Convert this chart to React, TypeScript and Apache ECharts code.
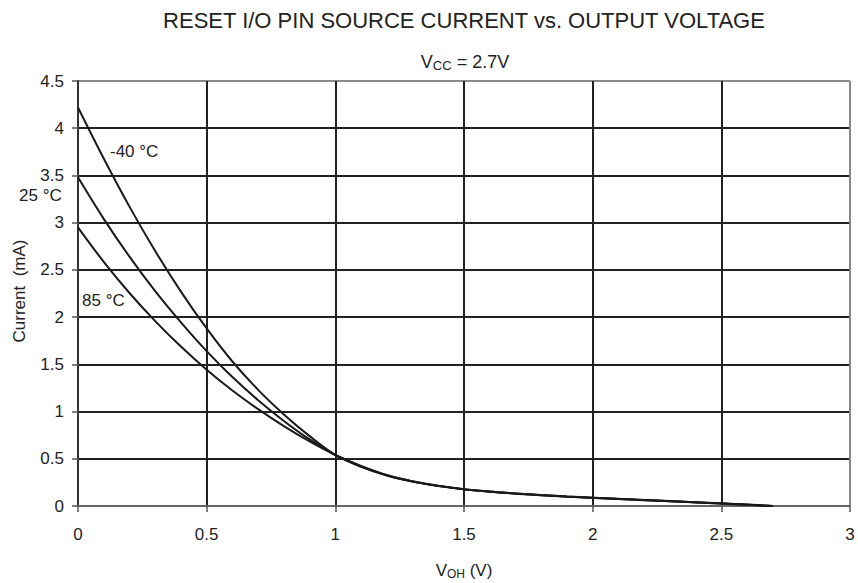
import React, { useEffect, useRef } from "react";
import * as echarts from "echarts";

const voltage = [
  0, 0.1, 0.2, 0.3, 0.4, 0.5, 0.6, 0.7, 0.8, 0.9, 1.0,
  1.1, 1.2, 1.3, 1.4, 1.5, 1.6, 1.7, 1.8, 1.9, 2.0,
  2.1, 2.2, 2.3, 2.4, 2.5, 2.6, 2.7,
];
const currentMinus40 = [
  4.22, 3.68, 3.17, 2.70, 2.27, 1.88, 1.53, 1.23, 0.97, 0.74, 0.54,
  0.415, 0.322, 0.258, 0.212, 0.176, 0.151, 0.131, 0.114, 0.099, 0.086,
  0.074, 0.062, 0.05, 0.038, 0.026, 0.013, 0.0,
];
const current25 = [
  3.48, 3.04, 2.64, 2.275, 1.945, 1.64, 1.365, 1.12, 0.90, 0.705, 0.54,
  0.42, 0.325, 0.26, 0.213, 0.177, 0.152, 0.132, 0.115, 0.1, 0.087,
  0.075, 0.063, 0.051, 0.039, 0.027, 0.014, 0.0,
];
const current85 = [
  2.95, 2.585, 2.255, 1.958, 1.688, 1.443, 1.223, 1.025, 0.845, 0.683, 0.54,
  0.425, 0.328, 0.262, 0.214, 0.178, 0.153, 0.133, 0.116, 0.101, 0.088,
  0.076, 0.064, 0.052, 0.04, 0.028, 0.015, 0.0,
];
const seriesNames = ["-40 °C", "25 °C", "85 °C"];

const FONT = "'Liberation Sans', Arial, Helvetica, sans-serif";
const INK = "#222";

export default function App() {
  const ref = useRef<HTMLDivElement>(null);
  useEffect(() => {
    if (!ref.current) return;
    const chart = echarts.init(ref.current, null, { renderer: "svg" });
    const pair = (ys: number[]) => voltage.map((x, i) => [x, ys[i]]);
    const series = [currentMinus40, current25, current85].map((ys, i) => ({
      name: seriesNames[i],
      type: "line",
      data: pair(ys),
      symbol: "none",
      smooth: 0.35,
      lineStyle: { color: "#1a1a1a", width: 2 },
      z: 5,
    }));
    const yGridColors = ["#555", "#222", "#222", "#222", "#222", "#222", "#222", "#222", "#222", "#8a8a8a"];
    const xGridColors = ["#333", "#222", "#222", "#222", "#222", "#222", "#8a8a8a"];
    chart.setOption({
      animation: false,
      textStyle: { fontFamily: FONT },
      grid: { left: 78, right: 8, top: 81, bottom: 77 },
      xAxis: {
        type: "value",
        min: 0,
        max: 3,
        interval: 0.5,
        axisLine: { show: true, onZero: false, lineStyle: { color: "#666", width: 2 } },
        axisTick: { show: true, length: 6, lineStyle: { color: "#555", width: 1.5 } },
        axisLabel: { color: INK, fontSize: 17, margin: 20, fontFamily: FONT },
        splitLine: { show: true, lineStyle: { color: xGridColors, width: 2 } },
      },
      yAxis: {
        type: "value",
        min: 0,
        max: 4.5,
        interval: 0.5,
        axisLine: { show: true, onZero: false, lineStyle: { color: "#333", width: 2 } },
        axisTick: { show: true, length: 6, lineStyle: { color: "#555", width: 1.5 } },
        axisLabel: { color: INK, fontSize: 17, margin: 14, fontFamily: FONT },
        splitLine: { show: true, lineStyle: { color: yGridColors, width: 2 } },
      },
      series,
      graphic: [
        {
          type: "text",
          x: 464,
          y: 20,
          style: {
            text: "RESET I/O PIN SOURCE CURRENT vs. OUTPUT VOLTAGE",
            fontSize: 22,
            fontFamily: FONT,
            fill: INK,
            align: "center",
            verticalAlign: "middle",
          },
        },
        {
          type: "text",
          x: 465,
          y: 62,
          style: {
            text: "{a|V}{b|CC}{a| = 2.7V}",
            fontFamily: FONT,
            fill: INK,
            align: "center",
            verticalAlign: "middle",
            rich: {
              a: { fontSize: 18, lineHeight: 20, fill: INK, fontFamily: FONT },
              b: { fontSize: 13, lineHeight: 8, verticalAlign: "bottom", fill: INK, fontFamily: FONT },
            },
          },
        },
        {
          type: "text",
          x: 464,
          y: 570,
          style: {
            text: "{a|V}{b|OH}{a| (V)}",
            fontFamily: FONT,
            fill: INK,
            align: "center",
            verticalAlign: "middle",
            rich: {
              a: { fontSize: 17, lineHeight: 20, fill: INK, fontFamily: FONT },
              b: { fontSize: 12, lineHeight: 8, verticalAlign: "bottom", fill: INK, fontFamily: FONT },
            },
          },
        },
        {
          type: "text",
          x: 19,
          y: 291,
          rotation: Math.PI / 2,
          style: {
            text: "Current  (mA)",
            fontSize: 17,
            fontFamily: FONT,
            fill: INK,
            align: "center",
            verticalAlign: "middle",
          },
        },
        {
          type: "text",
          x: 110,
          y: 151,
          style: { text: seriesNames[0], fontSize: 17, fontFamily: FONT, fill: INK, align: "left", verticalAlign: "middle" },
        },
        {
          type: "text",
          x: 19,
          y: 195,
          style: { text: seriesNames[1], fontSize: 17, fontFamily: FONT, fill: INK, align: "left", verticalAlign: "middle" },
        },
        {
          type: "text",
          x: 82,
          y: 300,
          style: { text: seriesNames[2], fontSize: 17, fontFamily: FONT, fill: INK, align: "left", verticalAlign: "middle" },
        },
      ],
    });
    return () => chart.dispose();
  }, []);
  return (
    <div
      ref={ref}
      style={{ position: "absolute", left: 0, top: 0, width: 858, height: 583, background: "#fff" }}
    />
  );
}
